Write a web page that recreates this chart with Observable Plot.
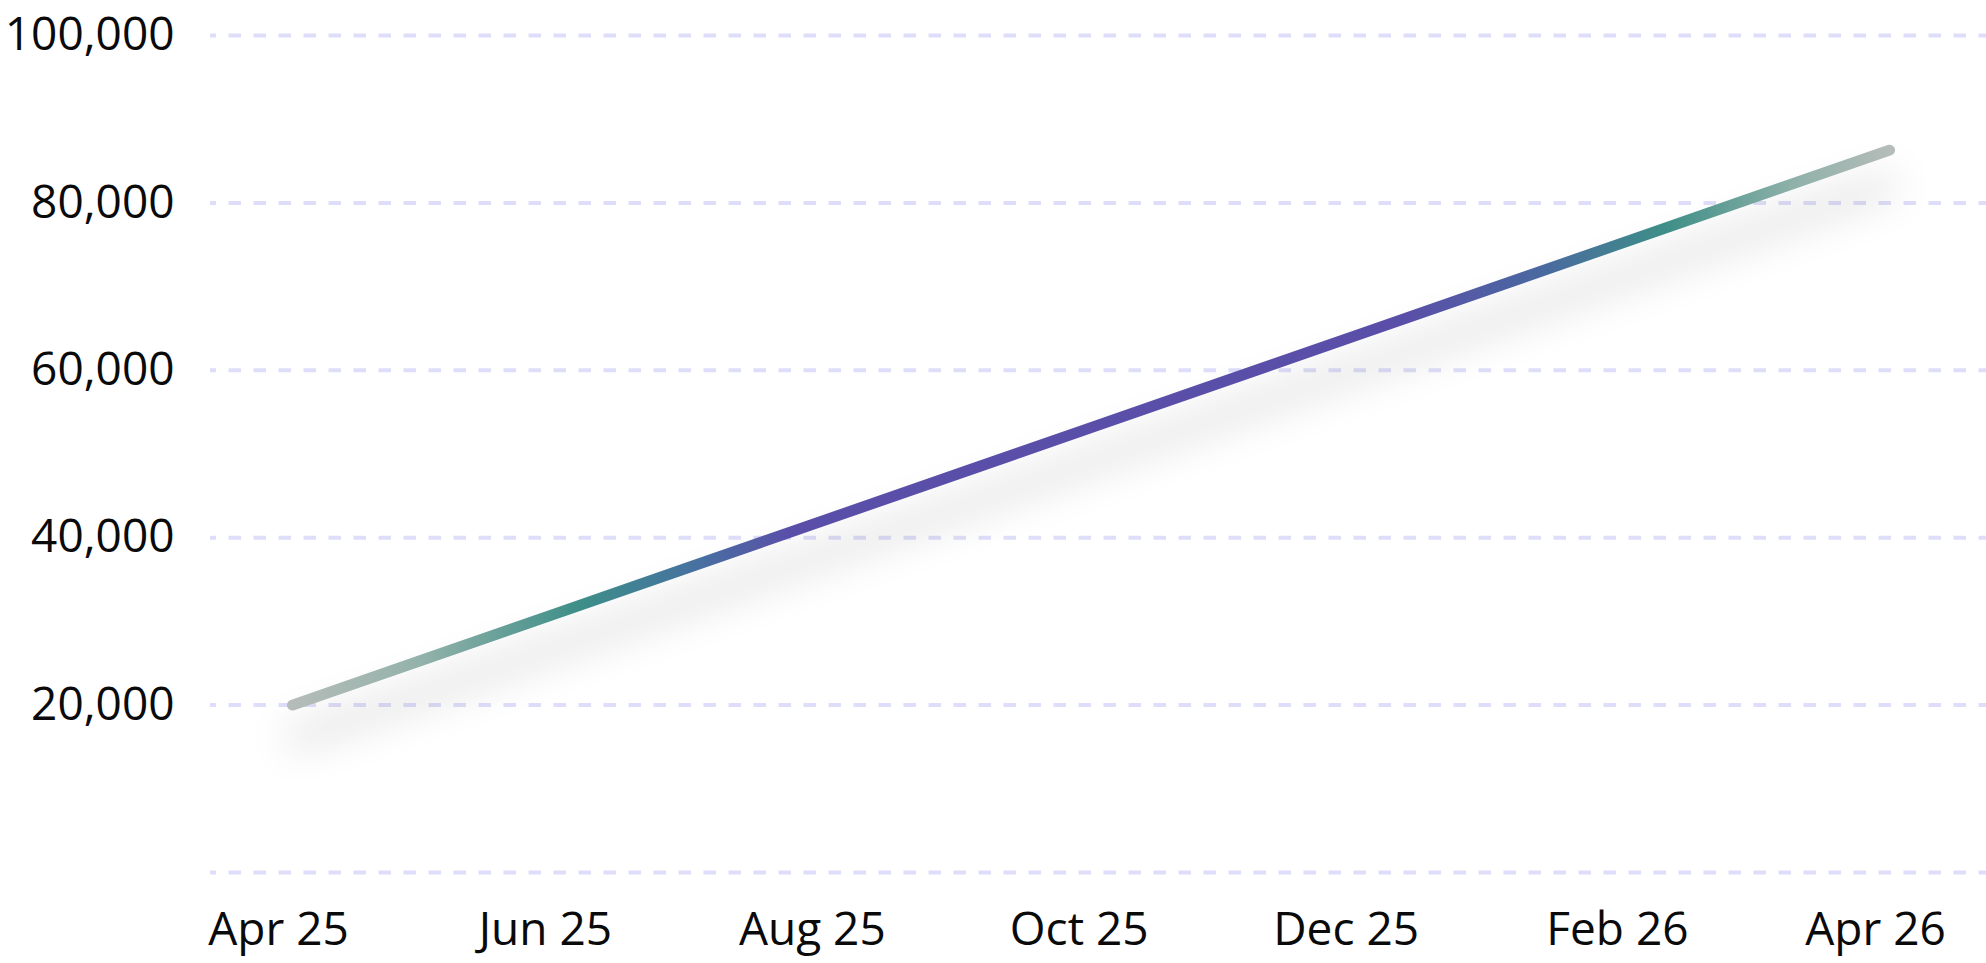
<!DOCTYPE html>
<html>
<head>
<meta charset="utf-8">
<script src="https://cdn.jsdelivr.net/npm/d3@7"></script>
<script src="https://cdn.jsdelivr.net/npm/@observablehq/plot@0.6"></script>
<style>
  html, body { margin: 0; padding: 0; background: #ffffff; }
  #chart { width: 1986px; height: 963px; }
</style>
</head>
<body>
<div id="chart"></div>
<script>
// ---- data ----
const months = ["2025-04-01","2025-05-01","2025-06-01","2025-07-01","2025-08-01","2025-09-01","2025-10-01",
                "2025-11-01","2025-12-01","2026-01-01","2026-02-01","2026-03-01","2026-04-01"];
const values = [20000, 25450, 31080, 36530, 42160, 47790, 53240, 58870, 64320, 69950, 75580, 80670, 86300];
const yTicks = [20000, 40000, 60000, 80000, 100000];
const gridValues = [0, 20000, 40000, 60000, 80000, 100000];
const xTickDates = ["2025-04-01","2025-06-01","2025-08-01","2025-10-01","2025-12-01","2026-02-01","2026-04-01"];
const xTickLabels = ["Apr 25","Jun 25","Aug 25","Oct 25","Dec 25","Feb 26","Apr 26"];

const data = months.map((m, i) => ({date: new Date(m), value: values[i]}));
const xTicks = xTickDates.map(d => new Date(d));
const labelFor = new Map(xTicks.map((d, i) => [+d, xTickLabels[i]]));

const chart = Plot.plot({
  width: 1986,
  height: 963,
  marginLeft: 210,
  marginRight: 0,
  marginTop: 35,
  marginBottom: 91,
  style: {fontSize: "46px", fontFamily: "'Open Sans', sans-serif", color: "#0a0a0a", background: "#ffffff"},
  x: {type: "utc", domain: [new Date("2025-04-01"), new Date("2026-04-01")], insetLeft: 82, insetRight: 97},
  y: {domain: [0, 100000]},
  marks: [
    Plot.gridY(gridValues, {stroke: "#dedefa", strokeOpacity: 1, strokeWidth: 4, strokeDasharray: "12.5,12.5", strokeDashoffset: 6.5}),
    Plot.axisY(yTicks, {tickSize: 0, tickPadding: 36, tickFormat: d3.format(","), label: null}),
    Plot.axisX(xTicks, {tickSize: 0, tickPadding: 40, dx: -14, tickFormat: d => labelFor.get(+d), label: null}),
    Plot.line(data, {x: "date", y: "value", stroke: "url(#lineGrad)", strokeWidth: 11, strokeLinecap: "round", strokeLinejoin: "round"})
  ]
});

// gradient + soft shadow defs
const svg = d3.select(chart.tagName.toLowerCase() === "svg" ? chart : chart.querySelector("svg"));
const defs = svg.insert("defs", ":first-child");
const grad = defs.append("linearGradient").attr("id", "lineGrad").attr("x1", "0").attr("x2", "1").attr("y1", "0").attr("y2", "0");
[
  [0.00, "#b5bcb9"],
  [0.08, "#93b2aa"],
  [0.18, "#3d8e88"],
  [0.25, "#4672a0"],
  [0.31, "#5a50a8"],
  [0.70, "#5a50a8"],
  [0.78, "#4a68a0"],
  [0.86, "#3e8f88"],
  [0.94, "#8fb1a9"],
  [1.00, "#b5bcb9"]
].forEach(([o, c]) => grad.append("stop").attr("offset", o).attr("stop-color", c));

const filt = defs.append("filter").attr("id", "lineShadow")
  .attr("filterUnits", "userSpaceOnUse").attr("x", 0).attr("y", 0).attr("width", 1986).attr("height", 963);
filt.append("feDropShadow").attr("dx", 0).attr("dy", 34).attr("stdDeviation", 20)
  .attr("flood-color", "#000000").attr("flood-opacity", 0.24);

svg.selectAll('g[aria-label="line"]').attr("filter", "url(#lineShadow)");

document.getElementById("chart").appendChild(chart);
</script>
</body>
</html>
